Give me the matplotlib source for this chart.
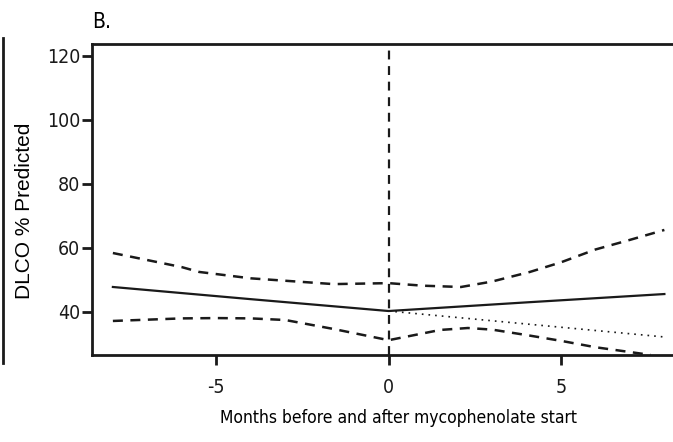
import numpy as np
import matplotlib.pyplot as plt
from matplotlib.lines import Line2D

# fitted DLCO trajectory
x_fit = [-8, -4, 0, 4, 8]
y_fit = [47.8, 44.0, 40.3, 43.0, 45.6]

x_upper = [-8, -6, -5.5, -4, -2, -1.6, 0, 1, 2.1, 3, 4.1, 5, 6, 7, 8]
y_upper = [58.4, 54.0, 52.5, 50.5, 49.0, 48.7, 49.0, 48.2, 47.8, 49.5, 52.5, 55.5, 59.5, 62.5, 65.6]

x_lower = [-8, -6, -5, -4, -3, -1.6, 0, 1.5, 2.3, 3, 4, 5, 6, 7, 7.6]
y_lower = [37.2, 38.0, 38.1, 38.0, 37.5, 34.7, 31.2, 34.4, 35.0, 34.5, 32.8, 31.0, 29.0, 27.5, 26.6]

x_proj = [0, 8]
y_proj = [40.3, 32.2]

plt.rcParams['font.family'] = ['DejaVu Sans']
plt.rcParams['font.stretch'] = 'condensed'

fig = plt.figure(figsize=(6.73, 4.42), dpi=100)
ax = fig.add_axes([0.137, 0.197, 0.863, 0.704])

ax.plot(x_fit, y_fit, color='#1a1a1a', lw=1.6)
ax.plot(x_upper, y_upper, color='#1a1a1a', lw=1.8, ls=(0, (4, 3)))
ax.plot(x_lower, y_lower, color='#1a1a1a', lw=1.8, ls=(0, (4, 3)))
ax.plot(x_proj, y_proj, color='#1a1a1a', lw=1.2, ls=(0, (1, 3)))
ax.axvline(0, color='#1a1a1a', lw=1.6, ls=(0, (4, 3)))

ax.set_xlim(-8.6, 8.25)
ax.set_ylim(26.6, 123.7)
ax.set_xticks([-5, 0, 5])
ax.set_xticklabels(['-5', '0', '5'])
ax.set_yticks([40, 60, 80, 100, 120])

for s in ['left', 'bottom', 'top']:
    ax.spines[s].set_linewidth(2)
    ax.spines[s].set_color('#1a1a1a')
ax.spines['right'].set_visible(False)
ax.tick_params(length=7.5, width=2, labelsize=14, colors='#1a1a1a')
ax.tick_params(axis='x', pad=9)
ax.tick_params(axis='y', pad=1)

ax.set_xlabel('Months before and after mycophenolate start', fontsize=12.5)
ax.xaxis.set_label_coords(0.528, -0.175)
ax.set_ylabel('DLCO % Predicted', fontsize=15,
              family=['Liberation Sans', 'DejaVu Sans'], stretch='normal')
ax.yaxis.set_label_coords(-0.1, 0.463)
fig.text(0.137, 1 - 28 / 442, 'B.', fontsize=15, va='baseline', ha='left')

# stray border from the neighbouring panel
fig.add_artist(Line2D([0.005, 0.005], [1 - 38 / 442, 1 - 363 / 442],
                      transform=fig.transFigure, color='#1a1a1a', lw=2))

fig.savefig('out.png', dpi=100)
